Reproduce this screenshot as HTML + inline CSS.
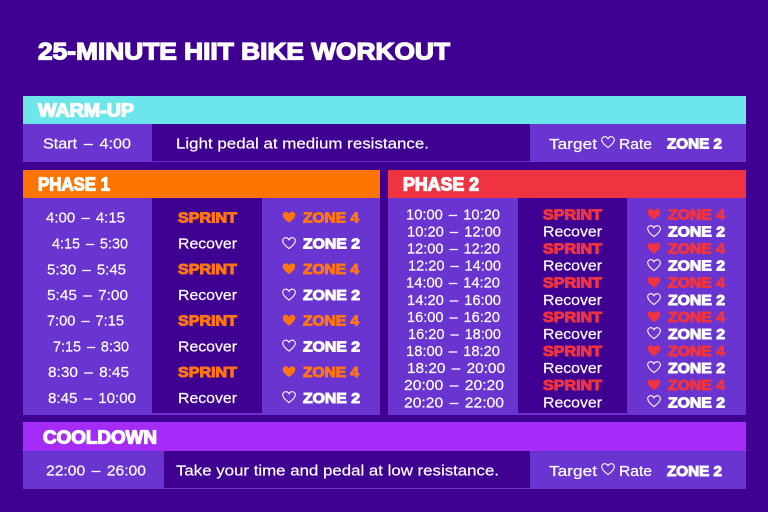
<!DOCTYPE html>
<html lang="en">
<head>
<meta charset="utf-8">
<title>25-Minute HIIT Bike Workout</title>
<style>
html,body{margin:0;padding:0;background:#3f0092;width:768px;height:512px;overflow:hidden}
svg{display:block}
text{font-family:"Liberation Sans",sans-serif;fill:#fff}
.b{font-size:15px;stroke:#fff;stroke-width:.2px}
.tm{word-spacing:2px}
.h{font-size:18px;font-weight:700;stroke:#fff;stroke-width:1.2px;paint-order:stroke}
.t{font-size:24.5px;font-weight:700;stroke:#fff;stroke-width:1.3px;paint-order:stroke}
.z{font-size:14.5px;font-weight:700;stroke-width:1px;paint-order:stroke}
.w{fill:#fff;stroke:#fff}
.o{fill:#ff7512;stroke:#ff7512}
.r{fill:#f03340;stroke:#f03340}
.hf{stroke:none}
.ho{fill:none;stroke:#fff;stroke-width:1.1}
</style>
</head>
<body>
<svg width="768" height="512" viewBox="0 0 768 512">
<defs>
<path id="heart" d="M7 11.6C2.2 8.2.7 6 .7 3.8.7 1.8 2.2.7 3.8.7 5.2.7 6.3 1.5 7 2.8 7.7 1.5 8.8.7 10.2.7 11.8.7 13.3 1.8 13.3 3.8 13.3 6 11.8 8.2 7 11.6Z"/>
</defs>
<rect width="768" height="512" fill="#3f0092"/>
<text class="t" x="38" y="59.5" textLength="412" lengthAdjust="spacingAndGlyphs">25-MINUTE HIIT BIKE WORKOUT</text>

<g>
<rect x="23" y="124" width="723" height="38" fill="#6934cf"/>
<rect x="152" y="124" width="378" height="37" fill="#3f0092"/>
<rect x="23" y="96" width="723" height="28" fill="#6ce6ea"/>
<text class="h" x="38" y="116.5" textLength="96" lengthAdjust="spacingAndGlyphs">WARM-UP</text>
<text class="b tm" x="43" y="148.5" textLength="88" lengthAdjust="spacingAndGlyphs">Start – 4:00</text>
<text class="b" x="176" y="148.5" textLength="253" lengthAdjust="spacingAndGlyphs">Light pedal at medium resistance.</text>
<text class="b" x="549" y="149" textLength="48" lengthAdjust="spacingAndGlyphs">Target</text>
<use href="#heart" x="601" y="136" class="ho"/>
<text class="b" x="619" y="149" textLength="33" lengthAdjust="spacingAndGlyphs">Rate</text>
<text class="z w" x="667" y="148.5" textLength="55" lengthAdjust="spacingAndGlyphs">ZONE 2</text>
</g>

<g>
<rect x="23" y="198" width="357" height="217" fill="#6934cf"/>
<rect x="152" y="198" width="110" height="215" fill="#3f0092"/>
<rect x="23" y="170" width="357" height="28" fill="#ff7300"/>
<text class="h" x="38" y="190.5" textLength="72" lengthAdjust="spacingAndGlyphs">PHASE 1</text>

<g><text class="b tm" x="46" y="222.5" textLength="79" lengthAdjust="spacingAndGlyphs">4:00 – 4:15</text><text class="z o" x="178" y="222.5" textLength="59" lengthAdjust="spacingAndGlyphs">SPRINT</text><use href="#heart" x="282" y="211" class="hf" fill="#ff7512"/><text class="z o" x="303" y="222.5" textLength="56" lengthAdjust="spacingAndGlyphs">ZONE 4</text></g>
<g><text class="b tm" x="52" y="248.5" textLength="76" lengthAdjust="spacingAndGlyphs">4:15 – 5:30</text><text class="b" x="178" y="248.5" textLength="59" lengthAdjust="spacingAndGlyphs">Recover</text><use href="#heart" x="282" y="237" class="ho"/><text class="z w" x="303" y="248.5" textLength="57" lengthAdjust="spacingAndGlyphs">ZONE 2</text></g>
<g><text class="b tm" x="47" y="274.5" textLength="79" lengthAdjust="spacingAndGlyphs">5:30 – 5:45</text><text class="z o" x="178" y="274" textLength="59" lengthAdjust="spacingAndGlyphs">SPRINT</text><use href="#heart" x="282" y="262.5" class="hf" fill="#ff7512"/><text class="z o" x="303" y="274" textLength="56" lengthAdjust="spacingAndGlyphs">ZONE 4</text></g>
<g><text class="b tm" x="47" y="300" textLength="81" lengthAdjust="spacingAndGlyphs">5:45 – 7:00</text><text class="b" x="178" y="300" textLength="59" lengthAdjust="spacingAndGlyphs">Recover</text><use href="#heart" x="282" y="288.5" class="ho"/><text class="z w" x="303" y="300" textLength="57" lengthAdjust="spacingAndGlyphs">ZONE 2</text></g>
<g><text class="b tm" x="47" y="325.5" textLength="77" lengthAdjust="spacingAndGlyphs">7:00 – 7:15</text><text class="z o" x="178" y="325.5" textLength="59" lengthAdjust="spacingAndGlyphs">SPRINT</text><use href="#heart" x="282" y="314" class="hf" fill="#ff7512"/><text class="z o" x="303" y="325.5" textLength="56" lengthAdjust="spacingAndGlyphs">ZONE 4</text></g>
<g><text class="b tm" x="53" y="351.5" textLength="76" lengthAdjust="spacingAndGlyphs">7:15 – 8:30</text><text class="b" x="178" y="351.5" textLength="59" lengthAdjust="spacingAndGlyphs">Recover</text><use href="#heart" x="282" y="339.5" class="ho"/><text class="z w" x="303" y="351.5" textLength="57" lengthAdjust="spacingAndGlyphs">ZONE 2</text></g>
<g><text class="b tm" x="48" y="377" textLength="81" lengthAdjust="spacingAndGlyphs">8:30 – 8:45</text><text class="z o" x="178" y="377" textLength="59" lengthAdjust="spacingAndGlyphs">SPRINT</text><use href="#heart" x="282" y="365.5" class="hf" fill="#ff7512"/><text class="z o" x="303" y="377" textLength="56" lengthAdjust="spacingAndGlyphs">ZONE 4</text></g>
<g><text class="b tm" x="48" y="403" textLength="88" lengthAdjust="spacingAndGlyphs">8:45 – 10:00</text><text class="b" x="178" y="403" textLength="59" lengthAdjust="spacingAndGlyphs">Recover</text><use href="#heart" x="282" y="391" class="ho"/><text class="z w" x="303" y="403" textLength="57" lengthAdjust="spacingAndGlyphs">ZONE 2</text></g>
</g>

<g>
<rect x="388" y="198" width="358" height="217" fill="#6934cf"/>
<rect x="518" y="198" width="109" height="215" fill="#3f0092"/>
<rect x="388" y="170" width="358" height="28" fill="#f03340"/>
<text class="h" x="403" y="190.5" textLength="76" lengthAdjust="spacingAndGlyphs">PHASE 2</text>

<g><text class="b tm" x="406" y="219.5" textLength="94" lengthAdjust="spacingAndGlyphs">10:00 – 10:20</text><text class="z r" x="543" y="219.5" textLength="59" lengthAdjust="spacingAndGlyphs">SPRINT</text><use href="#heart" x="647" y="208" class="hf" fill="#f03340"/><text class="z r" x="668" y="219.5" textLength="57" lengthAdjust="spacingAndGlyphs">ZONE 4</text></g>
<g><text class="b tm" x="407" y="236.5" textLength="94" lengthAdjust="spacingAndGlyphs">10:20 – 12:00</text><text class="b" x="543" y="236.5" textLength="59" lengthAdjust="spacingAndGlyphs">Recover</text><use href="#heart" x="647" y="225" class="ho"/><text class="z w" x="668" y="236.5" textLength="57" lengthAdjust="spacingAndGlyphs">ZONE 2</text></g>
<g><text class="b tm" x="407" y="253.5" textLength="93" lengthAdjust="spacingAndGlyphs">12:00 – 12:20</text><text class="z r" x="543" y="253.5" textLength="59" lengthAdjust="spacingAndGlyphs">SPRINT</text><use href="#heart" x="647" y="242" class="hf" fill="#f03340"/><text class="z r" x="668" y="253.5" textLength="57" lengthAdjust="spacingAndGlyphs">ZONE 4</text></g>
<g><text class="b tm" x="408" y="270.5" textLength="93" lengthAdjust="spacingAndGlyphs">12:20 – 14:00</text><text class="b" x="543" y="270.5" textLength="59" lengthAdjust="spacingAndGlyphs">Recover</text><use href="#heart" x="647" y="259" class="ho"/><text class="z w" x="668" y="270.5" textLength="57" lengthAdjust="spacingAndGlyphs">ZONE 2</text></g>
<g><text class="b tm" x="406" y="287.5" textLength="94" lengthAdjust="spacingAndGlyphs">14:00 – 14:20</text><text class="z r" x="543" y="287.5" textLength="59" lengthAdjust="spacingAndGlyphs">SPRINT</text><use href="#heart" x="647" y="276" class="hf" fill="#f03340"/><text class="z r" x="668" y="287.5" textLength="57" lengthAdjust="spacingAndGlyphs">ZONE 4</text></g>
<g><text class="b tm" x="407" y="305" textLength="94" lengthAdjust="spacingAndGlyphs">14:20 – 16:00</text><text class="b" x="543" y="305" textLength="59" lengthAdjust="spacingAndGlyphs">Recover</text><use href="#heart" x="647" y="293" class="ho"/><text class="z w" x="668" y="305" textLength="57" lengthAdjust="spacingAndGlyphs">ZONE 2</text></g>
<g><text class="b tm" x="407" y="322" textLength="93" lengthAdjust="spacingAndGlyphs">16:00 – 16:20</text><text class="z r" x="543" y="322" textLength="59" lengthAdjust="spacingAndGlyphs">SPRINT</text><use href="#heart" x="647" y="310.5" class="hf" fill="#f03340"/><text class="z r" x="668" y="322" textLength="57" lengthAdjust="spacingAndGlyphs">ZONE 4</text></g>
<g><text class="b tm" x="408" y="339" textLength="93" lengthAdjust="spacingAndGlyphs">16:20 – 18:00</text><text class="b" x="543" y="339" textLength="59" lengthAdjust="spacingAndGlyphs">Recover</text><use href="#heart" x="647" y="327" class="ho"/><text class="z w" x="668" y="339" textLength="57" lengthAdjust="spacingAndGlyphs">ZONE 2</text></g>
<g><text class="b tm" x="406" y="356" textLength="94" lengthAdjust="spacingAndGlyphs">18:00 – 18:20</text><text class="z r" x="543" y="356" textLength="59" lengthAdjust="spacingAndGlyphs">SPRINT</text><use href="#heart" x="647" y="344.5" class="hf" fill="#f03340"/><text class="z r" x="668" y="356" textLength="57" lengthAdjust="spacingAndGlyphs">ZONE 4</text></g>
<g><text class="b tm" x="407" y="373" textLength="98" lengthAdjust="spacingAndGlyphs">18:20 – 20:00</text><text class="b" x="543" y="373" textLength="59" lengthAdjust="spacingAndGlyphs">Recover</text><use href="#heart" x="647" y="361" class="ho"/><text class="z w" x="668" y="373" textLength="57" lengthAdjust="spacingAndGlyphs">ZONE 2</text></g>
<g><text class="b tm" x="404" y="390" textLength="100" lengthAdjust="spacingAndGlyphs">20:00 – 20:20</text><text class="z r" x="543" y="390" textLength="59" lengthAdjust="spacingAndGlyphs">SPRINT</text><use href="#heart" x="647" y="378.5" class="hf" fill="#f03340"/><text class="z r" x="668" y="390" textLength="57" lengthAdjust="spacingAndGlyphs">ZONE 4</text></g>
<g><text class="b tm" x="404" y="407.5" textLength="100" lengthAdjust="spacingAndGlyphs">20:20 – 22:00</text><text class="b" x="543" y="407.5" textLength="59" lengthAdjust="spacingAndGlyphs">Recover</text><use href="#heart" x="647" y="395" class="ho"/><text class="z w" x="668" y="407.5" textLength="57" lengthAdjust="spacingAndGlyphs">ZONE 2</text></g>
</g>

<g>
<rect x="23" y="451" width="723" height="38" fill="#6934cf"/>
<rect x="164" y="451" width="366" height="37" fill="#3f0092"/>
<rect x="23" y="422" width="723" height="29" fill="#a52cf8"/>
<text class="h" x="43" y="443.5" textLength="114" lengthAdjust="spacingAndGlyphs">COOLDOWN</text>
<text class="b tm" x="46" y="475.5" textLength="100" lengthAdjust="spacingAndGlyphs">22:00 – 26:00</text>
<text class="b" x="176" y="475.5" textLength="323" lengthAdjust="spacingAndGlyphs">Take your time and pedal at low resistance.</text>
<text class="b" x="549" y="476" textLength="48" lengthAdjust="spacingAndGlyphs">Target</text>
<use href="#heart" x="601" y="463" class="ho"/>
<text class="b" x="619" y="476" textLength="33" lengthAdjust="spacingAndGlyphs">Rate</text>
<text class="z w" x="667" y="476" textLength="55" lengthAdjust="spacingAndGlyphs">ZONE 2</text>
</g>
</svg>
</body>
</html>
